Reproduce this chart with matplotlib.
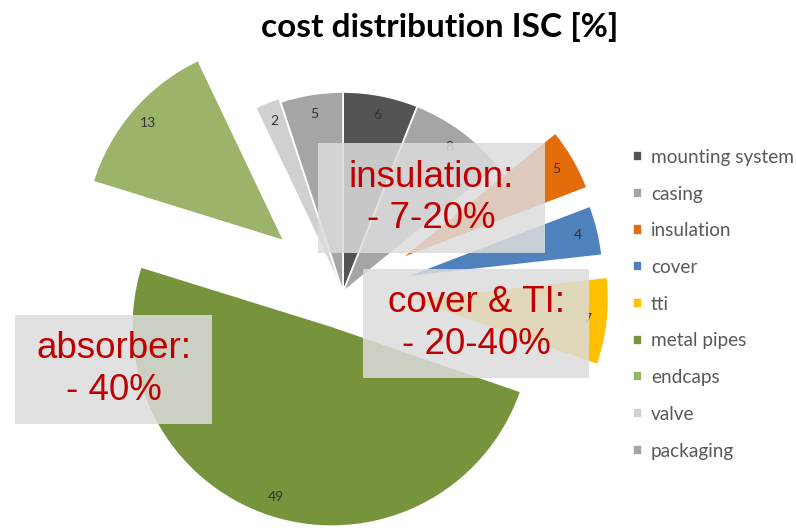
import numpy as np
import matplotlib.pyplot as plt
from matplotlib.patches import Rectangle

# data
categories = ['mounting system', 'casing', 'insulation', 'cover', 'tti',
              'metal pipes', 'endcaps', 'valve', 'packaging']
shares = [6, 8, 5, 4, 7, 49, 13, 2, 5]
colors = ['#545454', '#a5a5a5', '#e46c0a', '#4f81bd', '#ffc000',
          '#77933c', '#9bb46a', '#d0d0d0', '#a5a5a5']
explode = [0, 0, 0.33, 0.31, 0.33, 0.18, 0.39, 0.02, 0]

notes = ['insulation:\n- 7-20%', 'cover & TI:\n- 20-40%', 'absorber:\n- 40%']
# note boxes in pixels: left, top, right, bottom
note_boxes = [(318, 143, 545, 253), (363, 269, 589, 378), (15, 315, 212, 424)]

W, H = 796, 531
cx, cy, R = 343, 292, 200  # pie centre and radius in pixels

fig = plt.figure(figsize=(W / 100, H / 100), dpi=100)
ax = fig.add_axes([0, 0, 1, 1])
wedges, _ = ax.pie(shares, colors=colors, explode=explode, startangle=90,
                   counterclock=False, radius=1,
                   wedgeprops=dict(edgecolor='white', linewidth=1.2))
ax.set_xlim(-cx / R, (W - cx) / R)
ax.set_ylim(-(H - cy) / R, cy / R)
ax.set_aspect('equal')
ax.axis('off')

# value labels near the outer edge of each slice
for w, v in zip(wedges, shares):
    ang = np.deg2rad((w.theta1 + w.theta2) / 2)
    x0, y0 = w.center
    ax.text(x0 + 0.9 * np.cos(ang), y0 + 0.9 * np.sin(ang), str(v),
            ha='center', va='center', fontsize=10, color='#333333', family='Lato')

# title
fig.text(440 / W, 1 - 27 / H, 'cost distribution ISC [%]', ha='center', va='center',
         fontsize=24, fontweight='bold', family='Lato', color='black')

# legend
ax.legend(wedges, categories, loc='upper left', bbox_to_anchor=(633 / W, 1 - 149 / H),
          bbox_transform=fig.transFigure, frameon=False, prop={'family': 'Lato', 'size': 13.7},
          labelcolor='#595959', handlelength=0.45, handleheight=0.45, handletextpad=0.5,
          labelspacing=1.035, borderpad=0, borderaxespad=0)

# semi-transparent note boxes
for txt, (x0, y0, x1, y1) in zip(notes, note_boxes):
    fig.add_artist(Rectangle((x0 / W, 1 - y1 / H), (x1 - x0) / W, (y1 - y0) / H,
                             transform=fig.transFigure, facecolor='#dcdcdc', alpha=0.85,
                             edgecolor='none', zorder=5))
    fig.text((x0 + x1) / 2 / W, 1 - (y0 + y1) / 2 / H, txt, ha='center', va='center',
             multialignment='center', fontsize=26.5, family='Liberation Sans',
             color='#c00000', linespacing=1.25, zorder=6)

fig.savefig('out.png', dpi=100)
